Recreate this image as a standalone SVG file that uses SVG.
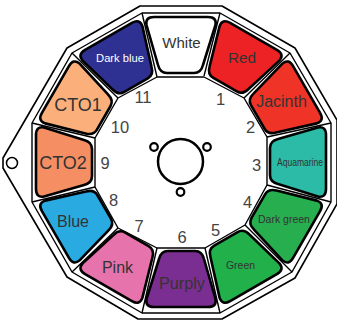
<svg xmlns="http://www.w3.org/2000/svg" width="337" height="320" viewBox="0 0 337 320">
<style>
.ln{fill:none;stroke:#000;stroke-linejoin:round}
.tile{stroke:#000;stroke-width:2.6;stroke-linejoin:round}
text{font-family:"Liberation Sans",Arial,sans-serif;fill:#333}
.n{font-size:16.5px;fill:#444;text-anchor:middle}
.m{text-anchor:middle}
</style>
<defs>
<path id="t" d="M154 17H208Q217 17 215.500 25L203 65Q201 73 194 73H167Q160 73 158 65L146.500 25Q145 17 154 17Z"/>
</defs>
<rect width="337" height="320" fill="#fff"/>
<g id="frame">
<path class="ln" stroke-width="1.6" d="M140 6H222L295 48L337 120V204L295 278L222 319H138L67 277L3 168V158L67 48Z"/>
<path class="ln" stroke-width="1.4" d="M142 13H220L290 53L331 123V202L292 272L220 313H142L72 272L32 202V123L72 53Z"/>
<path class="ln" stroke-width="1.4" d="M157 77H204L244 98L267 137V185L245 225L205 248H157L118 228L95 187V138L118 98Z"/>
<path class="ln" stroke-width="1.4" d="M142 13L157 77M220 13L204 76M290 53L244 98M331 123L267 137M331 202L267 185M292 272L245 225M220 313L205 248M142 313L157 248M72 272L118 228M32 202L95 187M32 123L95 138M72 53L118 98"/>
<circle class="ln" stroke-width="1.5" cx="12" cy="163" r="5.500"/>
</g>
<g id="hub">
<circle class="ln" stroke-width="2.500" cx="180.500" cy="161.500" r="22.500"/>
<circle class="ln" stroke-width="2.200" cx="154" cy="147" r="3.800"/>
<circle class="ln" stroke-width="2.200" cx="207" cy="147" r="3.800"/>
<circle class="ln" stroke-width="2.200" cx="180.500" cy="192" r="3.800"/>
</g>
<g id="white"><use href="#t" class="tile" fill="#fff"/><text class="m" x="181.500" y="48" font-size="15">White</text></g>
<g id="red"><use href="#t" class="tile" fill="#ED2224" transform="rotate(30 181 162)"/><text class="m" x="242" y="63" font-size="15.300">Red</text></g>
<g id="jacinth"><use href="#t" class="tile" fill="#EF3427" transform="rotate(60 181 162)"/><text class="m" x="281.500" y="107" font-size="16">Jacinth</text></g>
<g id="aquamarine"><use href="#t" class="tile" fill="#2BBBA6" transform="rotate(90 181 162)"/><text x="277" y="166" font-size="11" textLength="46" lengthAdjust="spacingAndGlyphs">Aquamarine</text></g>
<g id="dark-green"><use href="#t" class="tile" fill="#27AE4F" transform="rotate(120 181 162)"/><text class="m" x="284" y="223" font-size="10.500">Dark green</text></g>
<g id="green"><use href="#t" class="tile" fill="#22B04B" transform="rotate(150 181 162)"/><text class="m" x="240.500" y="269" font-size="10.500">Green</text></g>
<g id="purply"><use href="#t" class="tile" fill="#7B2E91" transform="rotate(180 181 162)"/><text class="m" x="182" y="289" font-size="16.200">Purply</text></g>
<g id="pink"><use href="#t" class="tile" fill="#E673AC" transform="rotate(210 181 162)"/><text class="m" x="117.500" y="273" font-size="16">Pink</text></g>
<g id="blue"><use href="#t" class="tile" fill="#29ABE2" transform="rotate(240 181 162)"/><text class="m" x="73" y="227" font-size="16">Blue</text></g>
<g id="cto2"><use href="#t" class="tile" fill="#F58F63" transform="rotate(270 181 162)"/><text class="m" x="63" y="169" font-size="18">CTO2</text></g>
<g id="cto1"><use href="#t" class="tile" fill="#FBB07C" transform="rotate(300 181 162)"/><text class="m" x="78" y="111" font-size="18">CTO1</text></g>
<g id="dark-blue"><use href="#t" class="tile" fill="#2E3192" transform="rotate(330 181 162)"/><text class="m" x="120" y="62" font-size="11.200" style="fill:#fff">Dark blue</text></g>
<g id="numbers">
<text class="n" x="143" y="103">11</text>
<text class="n" x="120" y="133">10</text>
<text class="n" x="105" y="169">9</text>
<text class="n" x="113.500" y="206">8</text>
<text class="n" x="139" y="232">7</text>
<text class="n" x="182" y="243">6</text>
<text class="n" x="215.500" y="236">5</text>
<text class="n" x="247.500" y="208">4</text>
<text class="n" x="256.500" y="171">3</text>
<text class="n" x="250.500" y="133">2</text>
<text class="n" x="220.500" y="105">1</text>
</g>
</svg>
